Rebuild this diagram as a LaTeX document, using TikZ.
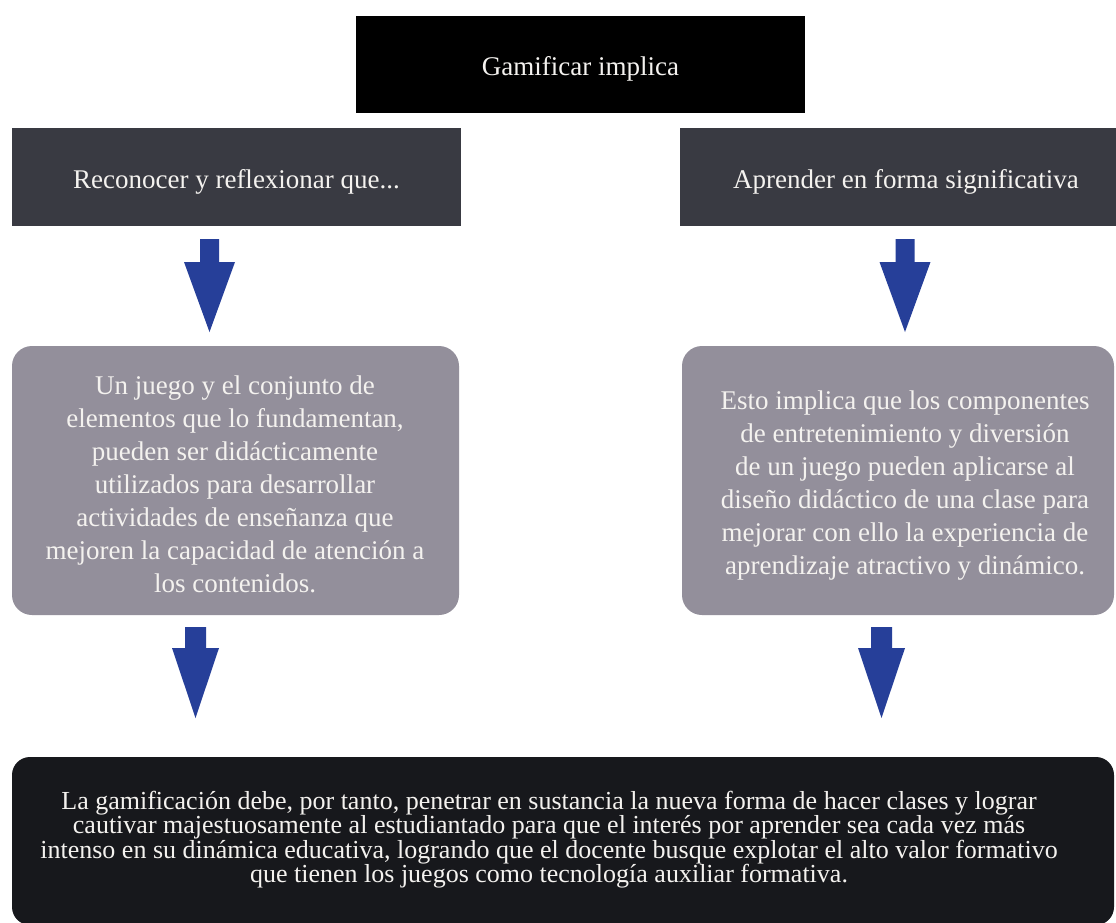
\documentclass[tikz,border=0pt]{standalone}
\usepackage{fontspec}
\setmainfont{Liberation Serif}
\definecolor{darkbox}{HTML}{393A42}
\definecolor{graybox}{HTML}{938F9B}
\definecolor{arrowblue}{HTML}{263F99}
\definecolor{bottombox}{HTML}{17181C}
\definecolor{txt}{HTML}{F4F2EF}
\begin{document}
\begin{tikzpicture}[x=1pt,y=-1pt,
  box/.style={inner sep=0pt, draw=none},
  txtnode/.style={text=txt, align=center, inner sep=0pt},
  bigtxt/.style={txtnode, font=\fontsize{27}{33}\selectfont},
  smalltxt/.style={txtnode, font=\fontsize{26}{24.5}\selectfont},
  uparrow/.pic={\fill[arrowblue] (-9.5,0) -- (9.5,0) -- (9.5,23) -- (25.5,23) -- (0,93) -- (-25.5,23) -- (-9.5,23) -- cycle;},
  lowarrow/.pic={\fill[arrowblue] (-10.5,0) -- (10.5,0) -- (10.5,21) -- (23.5,21) -- (0,91) -- (-23.5,21) -- (-10.5,21) -- cycle;}
]
\useasboundingbox (0,0) rectangle (1116,922);
\clip (0,0) rectangle (1116,922);
\fill[white] (0,0) rectangle (1116,922);

% top box
\node[box, fill=black, minimum width=449pt, minimum height=97pt] (top) at (580.5,64.5) {};
\node[bigtxt] (toptxt) at (580.5,69) {Gamificar implica};

% second row
\node[box, fill=darkbox, minimum width=449pt, minimum height=98pt] (l1) at (236.5,177) {};
\node[bigtxt] (l1txt) at (236.5,181.5) {Reconocer y reflexionar que...};
\node[box, fill=darkbox, minimum width=436pt, minimum height=98pt] (r1) at (898,177) {};
\node[bigtxt] (r1txt) at (906,181.5) {Aprender en forma significativa};

% arrows upper
\coordinate (al1) at (209.5,239);
\coordinate (ar1) at (905,239);
\pic at (al1) {uparrow};
\pic at (ar1) {uparrow};

% gray boxes
\node[box, fill=graybox, rounded corners=20pt, minimum width=447pt, minimum height=269pt] (l2) at (235.5,480.5) {};
\node[bigtxt] (l2txt) at (235,484) {Un juego y el conjunto de\\elementos que lo fundamentan,\\pueden ser didácticamente\\utilizados para desarrollar\\actividades de enseñanza que\\mejoren la capacidad de atención a\\los contenidos.};
\node[box, fill=graybox, rounded corners=20pt, minimum width=432pt, minimum height=269pt] (r2) at (898,480.5) {};
\node[bigtxt] (r2txt) at (905,486) {Esto implica que los componentes\\de entretenimiento y diversión\\de un juego pueden aplicarse al\\diseño didáctico de una clase para\\mejorar con ello la experiencia de\\aprendizaje atractivo y dinámico.};

% arrows lower
\coordinate (al2) at (195.5,627);
\coordinate (ar2) at (881.5,627);
\pic at (al2) {lowarrow};
\pic at (ar2) {lowarrow};

% bottom box
\node[box, fill=bottombox, rounded corners=18pt, minimum width=1102pt, minimum height=168pt] (bot) at (563,841) {};
\node[smalltxt] (bottxt) at (549,839.5) {La gamificación debe, por tanto, penetrar en sustancia la nueva forma de hacer clases y lograr\\cautivar majestuosamente al estudiantado para que el interés por aprender sea cada vez más\\intenso en su dinámica educativa, logrando que el docente busque explotar el alto valor formativo\\que tienen los juegos como tecnología auxiliar formativa.};
\end{tikzpicture}
\end{document}
